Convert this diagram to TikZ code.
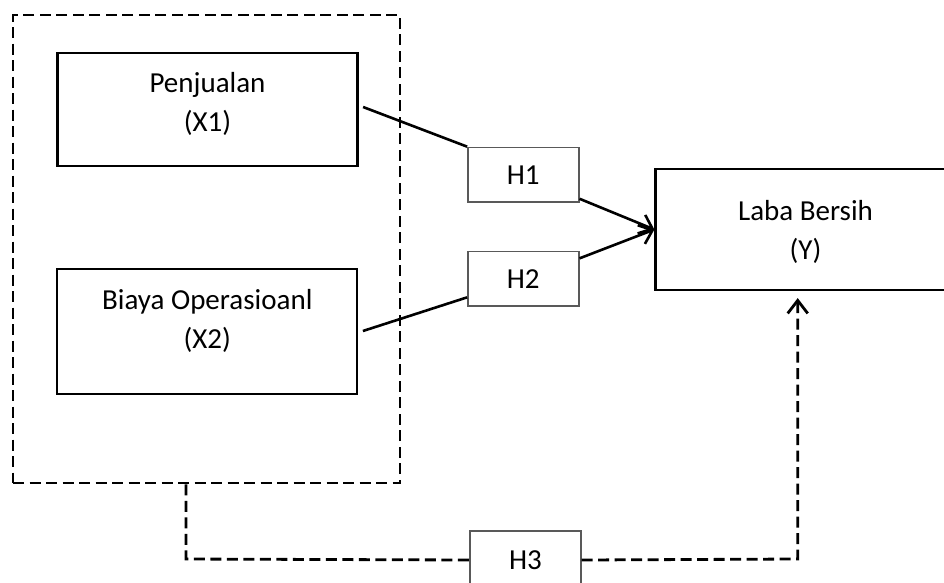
\documentclass[tikz,border=0pt]{standalone}
\usepackage{fontspec}
\setmainfont{Carlito}
\usetikzlibrary{arrows.meta}
\begin{document}
\begin{tikzpicture}[x=1pt,y=-1pt,
  bigbox/.style={draw, line width=2.2pt, inner sep=0pt},
  hbox/.style={draw=black!65, line width=1.4pt, minimum width=111pt, inner sep=0pt, font=\fontsize{29}{39}\selectfont},
  lbl/.style={align=center, inner sep=0pt, font=\fontsize{29}{39}\selectfont},
  conn/.style={line width=2.6pt},
  tipped/.style={-{Straight Barb[length=12pt,width=20pt]}},
  dashline/.style={line width=2.8pt, dash pattern=on 11pt off 5.5pt}
]
\useasboundingbox (0,0) rectangle (944,582);
\clip (0,0) rectangle (944,582);
% group
\node[draw, dashline, minimum width=387pt, minimum height=468pt, inner sep=0pt] (grp) at (206.5,249) {};
% boxes
\node[bigbox, minimum width=300pt, minimum height=113.3pt] (X1) at (207.5,109.3) {};
\node[lbl] (X1t) at (207.5,104) {Penjualan\\(X1)};
\node[bigbox, minimum width=300pt, minimum height=125pt] (X2) at (207.3,331.5) {};
\node[lbl] (X2t) at (207.3,320.5) {Biaya Operasioanl\\(X2)};
\node[bigbox, minimum width=300pt, minimum height=121pt] (Y) at (805.5,229.5) {};
\node[lbl] (Yt) at (805.5,231.5) {Laba Bersih\\(Y)};
\node[hbox, minimum height=54.7pt] (H1) at (523.3,174.7) {H1};
\node[hbox, minimum height=54.3pt] (H2) at (523.3,278.8) {H2};
\node[hbox, minimum height=58pt] (H3) at (525.5,560) {H3};
% connectors
\draw[conn] ([shift={(4.5,-2.3)}]X1.east) -- (H1.north west);
\draw[conn, tipped] ([shift={(0,-4)}]H1.south east) -- (Y.west);
\draw[conn] ([shift={(4.5,-0.5)}]X2.east) -- ([shift={(0,-9.3)}]H2.south west);
\draw[conn, tipped] ([shift={(0,7.4)}]H2.north east) -- (Y.west);
% H3 path
\coordinate (c1) at (186,559);
\coordinate (c2) at (797.7,559);
\draw[dashline] (c1 |- grp.south) -- (c1) -- (H3.west);
\draw[dashline, -{Straight Barb[length=13pt,width=20pt]}] (H3.east) -- (c2) -- ([shift={(0,7)}]c2 |- Y.south);
\end{tikzpicture}
\end{document}
